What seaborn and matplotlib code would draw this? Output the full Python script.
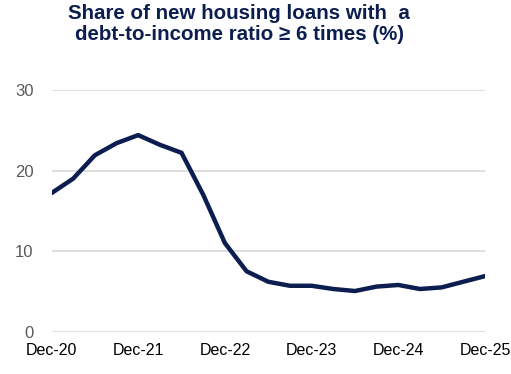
import matplotlib
matplotlib.use("Agg")
import matplotlib.pyplot as plt
import seaborn as sns
import pandas as pd

quarters = ["Dec-20", "Mar-21", "Jun-21", "Sep-21", "Dec-21", "Mar-22", "Jun-22", "Sep-22",
            "Dec-22", "Mar-23", "Jun-23", "Sep-23", "Dec-23", "Mar-24", "Jun-24", "Sep-24",
            "Dec-24", "Mar-25", "Jun-25", "Sep-25", "Dec-25"]
share = [17.2, 19.0, 21.9, 23.4, 24.4, 23.2, 22.2, 17.0,
         11.0, 7.5, 6.2, 5.7, 5.7, 5.3, 5.05, 5.6,
         5.8, 5.3, 5.5, 6.2, 6.9]
tick_labels = ["Dec-20", "Dec-21", "Dec-22", "Dec-23", "Dec-24", "Dec-25"]
y_ticks = [0, 10, 20, 30]

sns.set_theme(style="white")
plt.rcParams['font.family'] = ['Liberation Sans', 'DejaVu Sans']

df = pd.DataFrame({"idx": range(len(quarters)), "share": share, "quarter": quarters})

fig = plt.figure(figsize=(5.11, 3.74), dpi=100)
ax = fig.add_axes([51.5/511, 1 - 331.7/374, (485 - 51.5)/511, (331.7 - 90)/374])

sns.lineplot(data=df, x="idx", y="share", ax=ax, color="#0C1E50", linewidth=3.2, zorder=3)

ax.set_xlim(0, len(quarters) - 1)
ax.set_ylim(0, 30)
ax.set_yticks(y_ticks)
ax.set_yticklabels([str(v) for v in y_ticks])
tick_pos = [quarters.index(t) for t in tick_labels]
ax.set_xticks(tick_pos)
ax.set_xticklabels(tick_labels)
ax.grid(axis="y", color="#D9D9D9", linewidth=1.2, zorder=0)
ax.grid(axis="x", visible=False)
for s in ax.spines.values():
    s.set_visible(False)
ax.tick_params(axis="y", length=0, pad=13, labelsize=12, labelcolor="#595959")
ax.tick_params(axis="x", length=0, pad=8, labelsize=11.5, labelcolor="#000000")
ax.set_xlabel("")
ax.set_ylabel("")

fig.text(0.468, 1 - 4/374, "Share of new housing loans with  a\ndebt-to-income ratio \u2265 6 times (%)",
         ha="center", va="top", fontsize=14.8, fontweight="bold", color="#0C1E50",
         linespacing=1.15)

fig.savefig("out.png", dpi=100)
